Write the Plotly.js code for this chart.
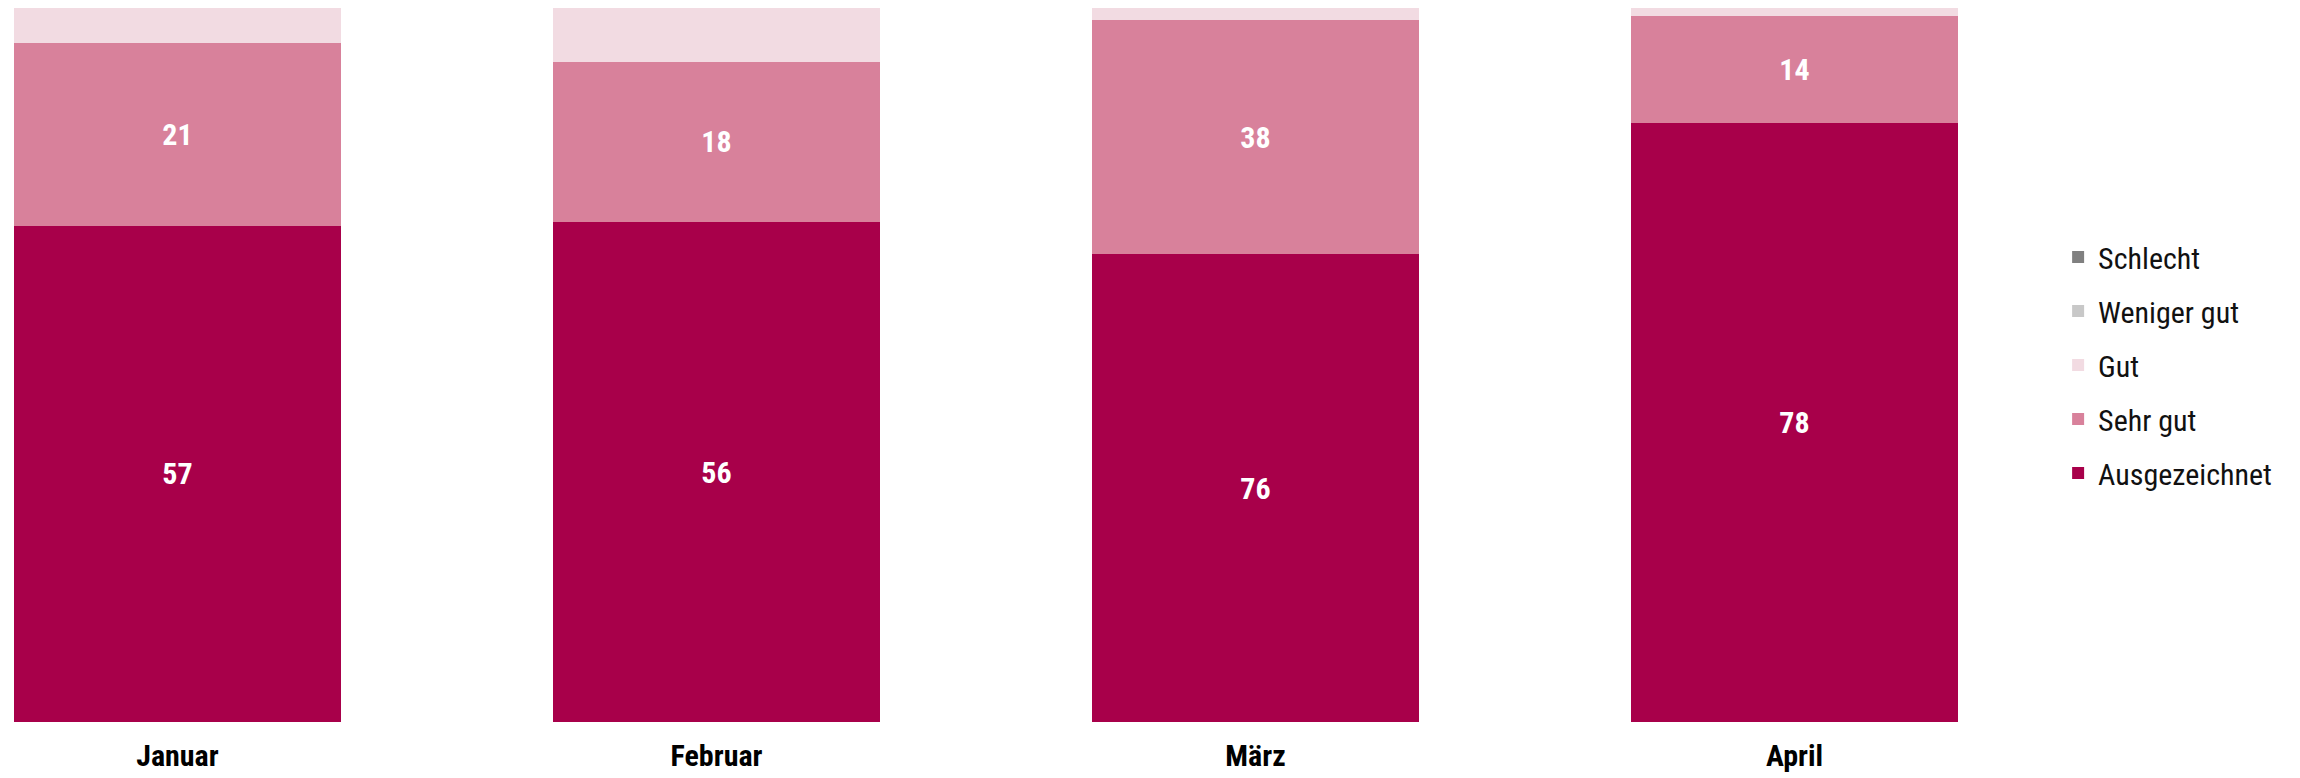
<!DOCTYPE html>
<html>
<head>
<meta charset="utf-8">
<script src="https://cdn.plot.ly/plotly-3.0.1.min.js"></script>
<style>html,body{margin:0;padding:0;background:#fff;}#chart{width:2300px;height:778px;}</style>
</head>
<body>
<div id="chart"></div>
<script>
const months = ["Januar", "Februar", "März", "April"];
const ausgezeichnet = [57, 56, 76, 78];
const sehrGut = [21, 18, 38, 14];
const gut = [4, 6, 2, 1];
const wenigerGut = [0, 0, 0, 0];
const schlecht = [0, 0, 0, 0];

// pick a condensed font if one is installed
function hasFont(name) {
  const c = document.createElement("canvas").getContext("2d");
  const s = "Ausgezeichnet Weniger gut 0123456789";
  return ["monospace", "serif"].some(function (fb) {
    c.font = "40px " + fb;
    const w0 = c.measureText(s).width;
    c.font = "40px '" + name + "', " + fb;
    return Math.abs(c.measureText(s).width - w0) > 0.5;
  });
}
const narrowCandidates = ["Liberation Sans Narrow", "Arial Narrow", "Roboto Condensed"];
let narrow = null;
for (const n of narrowCandidates) { if (hasFont(n)) { narrow = n; break; } }
const FONT = narrow ? "'" + narrow + "', 'Liberation Sans', sans-serif" : "'Liberation Sans', Arial, sans-serif";
const LEGEND_SIZE = narrow ? 30 : 27;
const TICK_SIZE = narrow ? 30 : 28;
const BAR_SIZE = narrow ? 30 : 28;

function bar(name, vals, color, showText, rank) {
  return {
    type: "bar",
    name: name,
    x: months,
    y: vals,
    legendgroup: name,
    legendrank: rank,
    marker: {color: color, line: {width: 0}},
    text: showText ? vals.map(String) : undefined,
    textposition: showText ? "inside" : "none",
    insidetextanchor: "middle",
    textangle: 0,
    textfont: {family: FONT, size: BAR_SIZE, color: "#ffffff", weight: "bold"},
    hoverinfo: "name+text"
  };
}

const data = [
  bar("Ausgezeichnet", ausgezeichnet, "#A8004A", true, 5),
  bar("Sehr gut", sehrGut, "#D8819B", true, 4),
  bar("Gut", gut, "#F2DBE2", false, 3),
  bar("Weniger gut", wenigerGut, "#C8C8C8", false, 2),
  bar("Schlecht", schlecht, "#808080", false, 1)
];

const layout = {
  width: 2300,
  height: 778,
  margin: {l: 14, r: 342, t: 8, b: 56},
  paper_bgcolor: "#ffffff",
  plot_bgcolor: "#ffffff",
  barmode: "stack",
  barnorm: "percent",
  bargap: 0.393,
  font: {family: FONT, size: 30, color: "#000000"},
  xaxis: {
    range: [-0.3033, 3.3033],
    showgrid: false, zeroline: false, showline: false, ticks: "",
    ticklabelstandoff: 13,
    tickfont: {family: FONT, size: TICK_SIZE, color: "#000000", weight: "bold"},
    automargin: false
  },
  yaxis: {range: [0, 100], visible: false, automargin: false},
  showlegend: true,
  legend: {
    traceorder: "grouped",
    tracegroupgap: 12,
    x: 1.0515, xanchor: "left",
    y: 0.5, yanchor: "middle",
    font: {family: FONT, size: LEGEND_SIZE, color: "#111111"},
    bgcolor: "rgba(0,0,0,0)"
  }
};

Plotly.newPlot("chart", data, layout, {displayModeBar: false, staticPlot: true});
</script>
</body>
</html>
